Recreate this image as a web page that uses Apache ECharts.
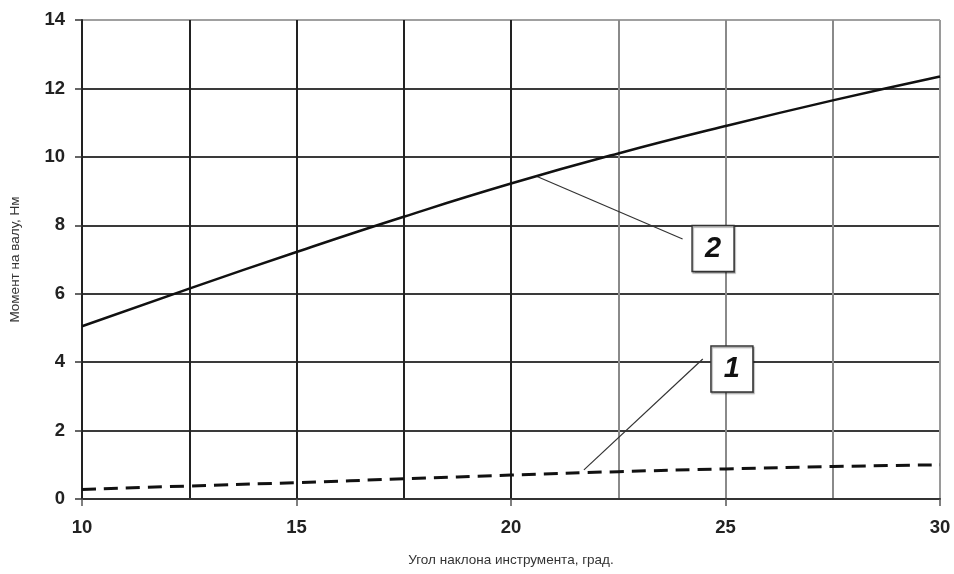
<!DOCTYPE html>
<html><head><meta charset="utf-8">
<script src="https://cdn.jsdelivr.net/npm/echarts@6/dist/echarts.min.js"></script>
<style>html,body{margin:0;padding:0;background:#fff}#c{width:954px;height:574px}</style>
</head><body><div id="c"></div>
<script>
var angles = [10, 12.5, 15, 17.5, 20, 22.5, 25, 27.5, 30];
var curve2 = [5.05, 6.15, 7.22, 8.25, 9.22, 10.1, 10.9, 11.65, 12.35];
var curve1 = [0.28, 0.38, 0.48, 0.59, 0.70, 0.80, 0.88, 0.95, 1.0];
var leader2 = [[20.58, 9.44], [24.0, 7.6]];
var leader1 = [[21.7, 0.85], [24.47, 4.09]];
var boxes = [{name: '2', value: [24.71, 7.32]}, {name: '1', value: [25.15, 3.8]}];
var xTicks = [10, 15, 20, 25, 30];
var yTicks = [0, 2, 4, 6, 8, 10, 12, 14];

function pairs(xs, ys) { return xs.map(function (x, i) { return [x, ys[i]]; }); }

var chart = echarts.init(document.getElementById('c'));
chart.setOption({
  animation: false,
  backgroundColor: '#fff',
  grid: {left: 80, right: 14, top: 20, bottom: 75},
  xAxis: [{
    type: 'value', min: xTicks[0], max: xTicks[xTicks.length - 1], interval: 5,
    name: 'Угол наклона инструмента, град.', nameLocation: 'middle', nameGap: 54,
    nameTextStyle: {fontFamily: 'Liberation Sans', fontSize: 13.5, color: '#333'},
    axisLine: {show: true, lineStyle: {color: '#333', width: 2}},
    axisTick: {show: true, length: 7, lineStyle: {color: '#555', width: 1.5}},
    axisLabel: {margin: 19, fontFamily: 'Liberation Sans', fontWeight: 'bold', fontSize: 18.5, color: '#222'},
    splitLine: {show: false}
  }, {
    type: 'value', min: 10, max: 30, interval: 2.5, position: 'bottom',
    axisLine: {show: false}, axisTick: {show: false}, axisLabel: {show: false},
    splitLine: {show: true, lineStyle: {width: 2, color: ['#222', '#222', '#222', '#222', '#222', '#8a8a8a', '#8a8a8a', '#8a8a8a', '#9a9a9a']}}
  }],
  yAxis: {
    type: 'value', min: yTicks[0], max: yTicks[yTicks.length - 1], interval: 2,
    name: 'Момент на валу, Нм', nameLocation: 'middle', nameGap: 60,
    nameTextStyle: {fontFamily: 'Liberation Sans', fontSize: 13.5, color: '#333'},
    axisLine: {show: true, lineStyle: {color: '#222', width: 2}},
    axisTick: {show: true, length: 7, lineStyle: {color: '#333', width: 1.5}},
    axisLabel: {margin: 17, fontFamily: 'Liberation Sans', fontWeight: 'bold', fontSize: 18.5, color: '#222'},
    splitLine: {show: true, lineStyle: {width: 2, color: ['#444', '#3a3a3a', '#3a3a3a', '#3a3a3a', '#3a3a3a', '#3a3a3a', '#3a3a3a', '#a0a0a0']}}
  },
  series: [{
    type: 'line', data: pairs(angles, curve2), smooth: 0.5, symbol: 'none',
    lineStyle: {color: '#111', width: 2.5}, z: 5
  }, {
    type: 'line', data: pairs(angles, curve1), smooth: 0.5, symbol: 'none',
    lineStyle: {color: '#111', width: 3, type: [14, 8]}, z: 5
  }, {
    type: 'line', data: leader2, symbol: 'none', lineStyle: {color: '#333', width: 1.2}, z: 4
  }, {
    type: 'line', data: leader1, symbol: 'none', lineStyle: {color: '#333', width: 1.2}, z: 4
  }, {
    type: 'scatter', data: boxes, symbol: 'rect', symbolSize: [42, 46],
    itemStyle: {color: '#fff', borderColor: '#333', borderWidth: 1.5, opacity: 1,
      shadowColor: 'rgba(0,0,0,0.35)', shadowOffsetX: 1, shadowOffsetY: 1.5, shadowBlur: 1},
    label: {show: true, position: 'inside', formatter: '{b}', fontFamily: 'Liberation Sans',
      fontStyle: 'italic', fontWeight: 'bold', fontSize: 29, color: '#111'},
    z: 6
  }]
});
</script></body></html>
